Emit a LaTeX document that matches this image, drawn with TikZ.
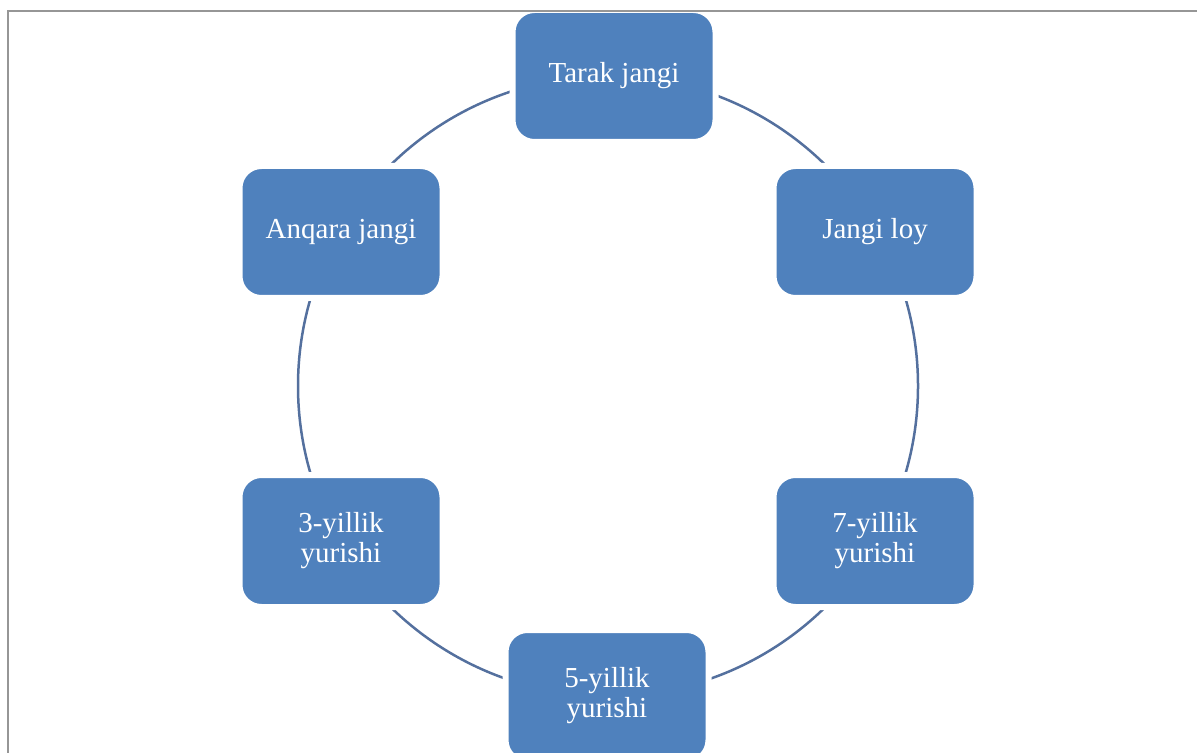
\documentclass[tikz,border=0pt]{standalone}
\usepackage{fontspec}
\setmainfont{Liberation Serif}

\definecolor{boxblue}{RGB}{79,129,189}
\definecolor{ringblue}{RGB}{84,112,158}
\definecolor{framegray}{RGB}{150,150,150}

\tikzset{
  stage/.style={rectangle, rounded corners=11pt, fill=boxblue, draw=white,
    line width=3pt, minimum width=101.5pt, minimum height=66pt, inner sep=0pt,
    text=white, align=center, font=\fontsize{14.5}{15}\selectfont},
}

\begin{document}
\begin{tikzpicture}[x=0.5pt,y=-0.5pt]
			\useasboundingbox (0,0) rectangle (1197,753);
			\coordinate (hub) at (608,386);
			\draw [color=ringblue,line width=1.25pt] (hub) circle (155pt);
			\node[stage] (tarak) at (614,76) {Tarak jangi};
			\node[stage] (loy) at (875,232) {Jangi loy};
			\node[stage] (yetti) at (875,541) {7-yillik\\yurishi};
			\node[stage] (besh) at (607,696) {5-yillik\\yurishi};
			\node[stage] (uch) at (341,541) {3-yillik\\yurishi};
			\node[stage] (anqara) at (341,232) {Anqara jangi};
			\draw [color=framegray,line width=1pt] (7.5,753)-- (7.5,11)-- (1197,11);
		\end{tikzpicture}
\end{document}
